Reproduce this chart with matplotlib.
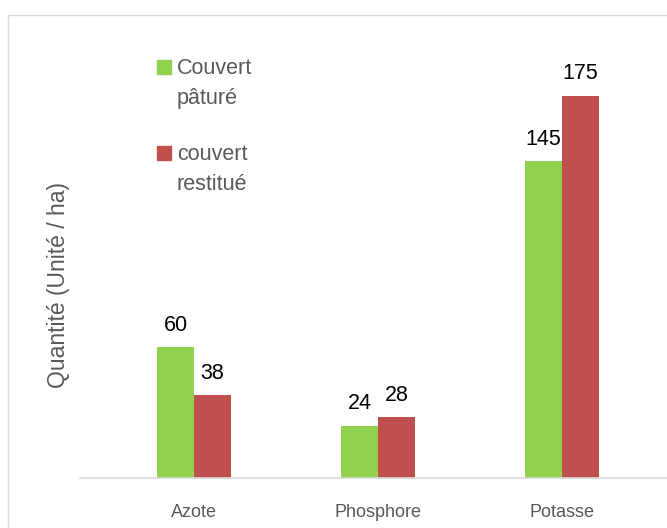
import numpy as np
import matplotlib.pyplot as plt
from matplotlib.patches import Rectangle

categories = ['Azote', 'Phosphore', 'Potasse']
paturé = [60, 24, 145]
restitue = [38, 28, 175]
legend_labels = ['Couvert\npâturé', 'couvert\nrestitué']
colors = ['#92D050', '#C0504D']

W, H = 667, 528
fig = plt.figure(figsize=(W / 100, H / 100), dpi=100)
plt.rcParams['font.family'] = ['Liberation Sans', 'DejaVu Sans']

# outer chart border (partly cut off right/bottom like the original)
fig.patches.append(Rectangle((8 / W, -0.05), 1.1, 1 - 15 / H + 0.05,
                             transform=fig.transFigure, fill=False,
                             edgecolor='#d9d9d9', lw=1))

ax = fig.add_axes([80 / W, 50 / H, (W - 80) / W, 448 / H])
x = np.arange(len(categories))
w = 0.2
b1 = ax.bar(x - w / 2, paturé, w, color=colors[0])
b2 = ax.bar(x + w / 2, restitue, w, color=colors[1])

for bars in (b1, b2):
    for r in bars:
        ax.annotate(f'{r.get_height():g}', (r.get_x() + r.get_width() / 2, r.get_height()),
                    xytext=(0, 8), textcoords='offset points', ha='center', va='bottom',
                    fontsize=15.5, color='black')

ax.set_xlim(-0.62, 2.57)
ax.set_ylim(0, 205)
ax.set_xticks(x)
ax.set_xticklabels(categories, fontsize=13, color='#595959')
ax.tick_params(axis='x', length=0, pad=19)
ax.set_yticks([])
for s in ['top', 'right', 'left']:
    ax.spines[s].set_visible(False)
ax.spines['bottom'].set_color('#d9d9d9')
ax.spines['bottom'].set_linewidth(1.2)

fig.text(58 / W, 1 - 285 / H, 'Quantité (Unité / ha)', rotation=90, ha='center', va='center',
         fontsize=16.5, color='#595959')

# legend
for i, (lab, c) in enumerate(zip(legend_labels, colors)):
    top = 60 + i * 86
    fig.patches.append(Rectangle((157 / W, 1 - (top + 14) / H), 14 / W, 14 / H,
                                 transform=fig.transFigure, color=c))
    fig.text(177 / W, 1 - (top - 2) / H, lab, ha='left', va='top', fontsize=15.5,
             color='#595959', linespacing=1.55)

fig.savefig('out.png', dpi=100)
